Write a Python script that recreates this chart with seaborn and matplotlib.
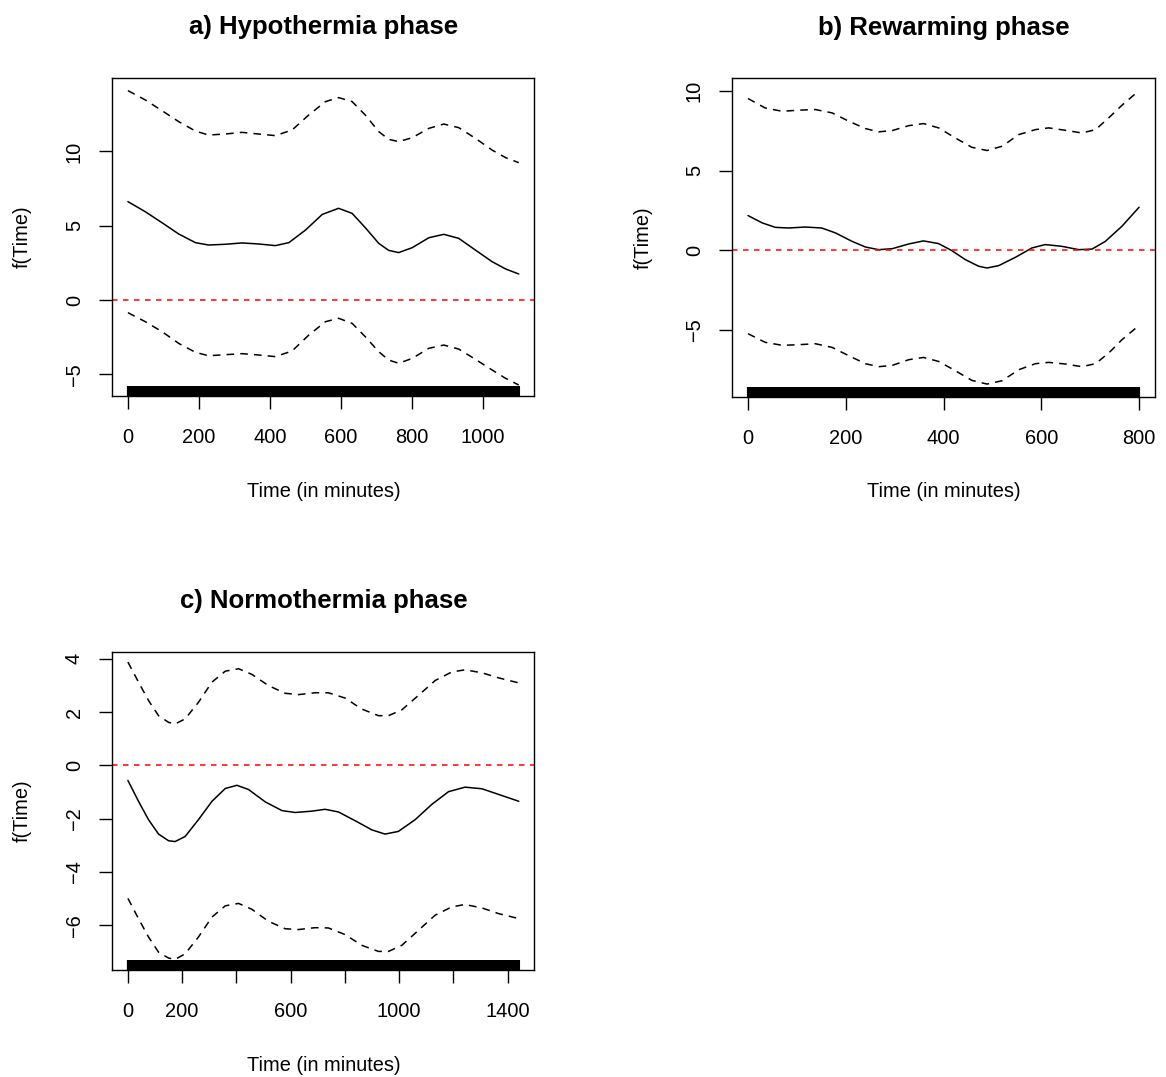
import numpy as np
import matplotlib
matplotlib.use("Agg")
import matplotlib.pyplot as plt
import seaborn as sns

# smooth term estimates (time in minutes, f(Time)) and
# the upper / lower confidence bands drawn as dashed lines

# a) hypothermia
hypo_time = [0, 49, 96, 143, 190, 227, 274, 321, 368, 415, 453, 500, 547, 593, 631, 668,
             706, 734, 762, 800, 847, 889, 931, 978, 1025, 1063, 1100]
hypo_fit = [6.62, 5.94, 5.2, 4.44, 3.86, 3.70, 3.75, 3.84, 3.77, 3.66, 3.86, 4.71, 5.76, 6.17,
            5.83, 4.87, 3.81, 3.34, 3.19, 3.52, 4.19, 4.42, 4.15, 3.36, 2.58, 2.09, 1.75]
hypo_band_time = [0, 49, 96, 143, 190, 227, 274, 321, 368, 415, 462, 509, 556, 593, 631, 668,
                  706, 734, 762, 800, 847, 889, 931, 978, 1025, 1063, 1100]
hypo_up = [14.09, 13.46, 12.74, 12.0, 11.37, 11.1, 11.17, 11.28, 11.17, 11.06, 11.44, 12.45,
           13.35, 13.62, 13.35, 12.45, 11.33, 10.81, 10.66, 10.92, 11.55, 11.84, 11.6, 10.88,
           10.09, 9.58, 9.24]
hypo_lo = [-0.85, -1.46, -2.13, -2.92, -3.52, -3.75, -3.68, -3.61, -3.70, -3.81, -3.43, -2.36,
           -1.46, -1.23, -1.57, -2.47, -3.48, -4.04, -4.26, -3.93, -3.25, -3.03, -3.30, -3.99,
           -4.71, -5.27, -5.72]

# b) rewarming
rew_time = [0, 29, 56, 83, 117, 151, 179, 213, 240, 267, 295, 329, 359, 390, 417, 445, 472,
            489, 513, 547, 581, 608, 642, 677, 704, 731, 765, 800]
rew_fit = [2.18, 1.72, 1.44, 1.40, 1.46, 1.40, 1.09, 0.56, 0.21, 0.04, 0.10, 0.40, 0.59, 0.42,
           -0.02, -0.59, -1.0, -1.11, -0.96, -0.44, 0.15, 0.36, 0.25, 0.04, 0.08, 0.56, 1.51, 2.70]
rew_band_time = [0, 35, 70, 104, 138, 172, 206, 240, 267, 295, 329, 359, 390, 424, 458, 489,
                 520, 554, 588, 615, 649, 683, 711, 738, 765, 800]
rew_up = [9.52, 8.93, 8.72, 8.79, 8.83, 8.62, 8.10, 7.64, 7.43, 7.51, 7.82, 7.95, 7.68, 7.05,
          6.46, 6.26, 6.53, 7.26, 7.57, 7.68, 7.53, 7.36, 7.57, 8.31, 9.10, 10.02]
rew_lo = [-5.23, -5.77, -5.96, -5.92, -5.86, -6.09, -6.61, -7.11, -7.30, -7.22, -6.86, -6.72,
          -6.97, -7.55, -8.16, -8.39, -8.18, -7.49, -7.11, -7.03, -7.13, -7.30, -7.11, -6.44,
          -5.61, -4.71]

# c) normothermia
norm_time = [0, 39, 76, 113, 150, 174, 211, 260, 310, 359, 402, 445, 506, 568, 617, 678, 727,
             776, 838, 899, 948, 997, 1059, 1120, 1182, 1243, 1305, 1366, 1441]
norm_fit = [-0.57, -1.35, -2.04, -2.58, -2.83, -2.86, -2.67, -2.04, -1.35, -0.87, -0.75, -0.91,
            -1.37, -1.70, -1.77, -1.72, -1.65, -1.75, -2.08, -2.42, -2.58, -2.48, -2.04, -1.47,
            -0.99, -0.82, -0.88, -1.09, -1.35]
norm_band_time = [0, 39, 76, 113, 150, 174, 211, 260, 310, 359, 408, 457, 518, 580, 629, 690,
                  739, 801, 862, 924, 961, 1010, 1071, 1133, 1194, 1243, 1305, 1366, 1441]
norm_up = [3.87, 3.12, 2.43, 1.86, 1.61, 1.55, 1.74, 2.36, 3.12, 3.53, 3.62, 3.41, 2.99, 2.70,
           2.65, 2.72, 2.72, 2.52, 2.11, 1.86, 1.86, 2.08, 2.62, 3.18, 3.50, 3.58, 3.47, 3.28, 3.09]
norm_lo = [-4.99, -5.75, -6.44, -7.01, -7.23, -7.28, -7.07, -6.44, -5.69, -5.27, -5.18, -5.40,
           -5.85, -6.13, -6.16, -6.09, -6.10, -6.35, -6.75, -6.98, -6.98, -6.75, -6.19, -5.62,
           -5.31, -5.22, -5.35, -5.56, -5.75]

# observation times (one per minute) shown as rug
hypo_obs = np.arange(0, 1101, 1)
rew_obs = np.arange(0, 801, 1)
norm_obs = np.arange(0, 1442, 1)

titles = ["a) Hypothermia phase", "b) Rewarming phase", "c) Normothermia phase"]

sns.set_style("white")
plt.rcParams["font.family"] = ["Liberation Sans", "DejaVu Sans"]
plt.rcParams["text.color"] = "black"
plt.rcParams["axes.labelcolor"] = "black"
plt.rcParams["xtick.color"] = "black"
plt.rcParams["ytick.color"] = "black"

fig = plt.figure(figsize=(11.66, 10.77), dpi=100)
ax_a = fig.add_axes([0.0963, 0.6323, 0.362, 0.2953])
ax_b = fig.add_axes([0.6281, 0.6317, 0.3622, 0.2956])
ax_c = fig.add_axes([0.0963, 0.0994, 0.362, 0.2955])

dash = (0, (5, 4))

panels = [
    (ax_a, titles[0], hypo_time, hypo_fit, hypo_band_time, hypo_up, hypo_lo, hypo_obs,
     (-44, 1144), (-6.46, 14.94), [0, 200, 400, 600, 800, 1000], None, [-5, 0, 5, 10]),
    (ax_b, titles[1], rew_time, rew_fit, rew_band_time, rew_up, rew_lo, rew_obs,
     (-32, 832), (-9.18, 10.79), [0, 200, 400, 600, 800], None, [-5, 0, 5, 10]),
    (ax_c, titles[2], norm_time, norm_fit, norm_band_time, norm_up, norm_lo, norm_obs,
     (-57.6, 1498.6), (-7.675, 4.26), [0, 200, 400, 600, 800, 1000, 1200, 1400],
     ["0", "200", "", "600", "", "1000", "", "1400"], [-6, -4, -2, 0, 2, 4]),
]

for ax, title, t, fit, tb, up, lo, obs, xlim, ylim, xt, xtl, yt in panels:
    sns.lineplot(x=t, y=fit, ax=ax, color="black", lw=1.1, estimator=None)
    sns.lineplot(x=tb, y=up, ax=ax, color="black", lw=1.1, estimator=None, linestyle=dash)
    sns.lineplot(x=tb, y=lo, ax=ax, color="black", lw=1.1, estimator=None, linestyle=dash)
    ax.axhline(0, color="red", lw=1.1, linestyle=(0, (3.6, 3.6)))
    sns.rugplot(x=obs, ax=ax, height=0.03, color="black", linewidth=1.5, expand_margins=False)

    ax.set_xlim(*xlim)
    ax.set_ylim(*ylim)
    ax.set_xticks(xt)
    if xtl is not None:
        ax.set_xticklabels(xtl)
    ax.set_yticks(yt)
    for lab in ax.get_yticklabels():
        lab.set_rotation(90)
        lab.set_va("center")
    ax.tick_params(axis="both", direction="out", length=9.5, width=1.0, color="black",
                   labelcolor="black", labelsize=14.4, bottom=True, left=True)
    ax.tick_params(axis="x", pad=13.5)
    ax.tick_params(axis="y", pad=11)
    for s in ax.spines.values():
        s.set_color("black")
        s.set_linewidth(1.0)
    ax.set_xlabel("Time (in minutes)", fontsize=14.4, labelpad=25, color="black")
    ax.set_ylabel("f(Time)", fontsize=14.4, labelpad=23.5, color="black")
    ax.set_title(title, fontsize=18.5, fontweight="bold", pad=31.5, color="black")

fig.savefig("out.png", dpi=100, facecolor="white")
